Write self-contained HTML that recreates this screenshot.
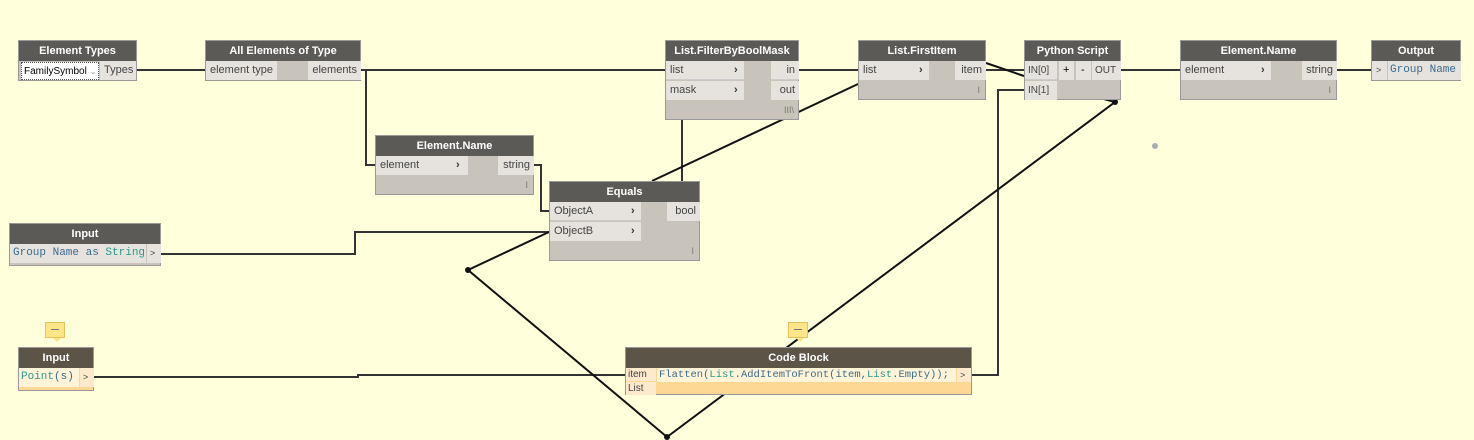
<!DOCTYPE html>
<html><head><meta charset="utf-8"><style>
html,body{margin:0;padding:0;width:1474px;height:440px;overflow:hidden;background:#ffffdc;font-family:"Liberation Sans",sans-serif;}
.n{position:absolute;background:#c8c4bc;border:1px solid #999;box-sizing:border-box;}
.h{position:absolute;left:0;right:0;top:0;height:20px;background:#5c5a57;color:#fff;font-weight:bold;font-size:11px;line-height:20px;text-align:center;}
.c{position:absolute;background:#e6e3de;font-size:11px;color:#444;line-height:19px;padding-left:4px;box-sizing:border-box;height:19px;}
.r{text-align:right;padding-right:4px;padding-left:0;}
.m{font-family:"Liberation Mono",monospace;color:#3a6c8c;}
.t{color:#2a9a8a;}
.ar{position:absolute;font-weight:bold;font-size:11px;color:#333;}
.ft{position:absolute;font-size:9px;color:#777;}
svg{position:absolute;left:0;top:0;}
.cm{position:absolute;width:20px;height:16px;background:#fde58a;border:1px solid #e6c25c;box-sizing:border-box;}
.cm:after{content:"";position:absolute;left:7px;top:15px;border:4px solid transparent;border-top:4px solid #fde58a;}
</style></head><body>

<svg width="1474" height="440" viewBox="0 0 1474 440">
<g fill="none" stroke="#333" stroke-width="2">
 <path d="M137 70 H205"/>
 <path d="M361 70 H665"/>
 <path d="M366 70 V165 H375"/>
 <path d="M534 165 H541 V211 H549"/>
 <path d="M161 254 H355 V232 H549"/>
 <path d="M799 70 H858"/>
 <path d="M682 120 V181"/>
 <path d="M986 70 H1024"/>
 <path d="M1121 70 H1180"/>
 <path d="M1337 70 H1371"/>
 <path d="M94 377 H358 V375 H625"/>
 <path d="M972 375 H998 V90 H1024"/>
</g>
<g fill="none" stroke="#111" stroke-width="2">
 <path d="M549 232 L468 270 L667 437 L1115 102 L1100 98"/>
 <path d="M652 181 L858 84"/>
 <path d="M986 63 L1024 76"/>
</g>
<g fill="#111">
 <circle cx="468" cy="270" r="3"/>
 <circle cx="667" cy="437" r="3"/>
 <circle cx="1115" cy="102" r="3"/>
</g>
<circle cx="1155" cy="146" r="3" fill="#aab"/>
</svg>

<!-- Element Types -->
<div class="n" style="left:18px;top:40px;width:119px;height:41px;">
 <div class="h">Element Types</div>
 <div class="c" style="left:2px;top:21px;width:78px;background:#fff;border:1px dotted #555;font-size:10px;color:#000;line-height:17px;height:18px;padding-left:2px;">FamilySymbol <span style="color:#999;font-size:8px">⌄</span></div>
 <div class="c" style="left:81px;top:20px;width:36px;">Types</div>
</div>

<!-- All Elements of Type -->
<div class="n" style="left:205px;top:40px;width:156px;height:41px;">
 <div class="h">All Elements of Type</div>
 <div class="c" style="left:0;top:20px;width:71px;">element type</div>
 <div class="c r" style="left:102px;top:20px;width:53px;">elements</div>
</div>

<!-- Element.Name mid -->
<div class="n" style="left:375px;top:135px;width:159px;height:60px;">
 <div class="h">Element.Name</div>
 <div class="c" style="left:0;top:20px;width:92px;">element<span class="ar" style="left:80px;top:0">›</span></div>
 <div class="c r" style="left:122px;top:20px;width:36px;">string</div>
 <div class="ft" style="right:5px;top:44px;">I</div>
</div>

<!-- Equals -->
<div class="n" style="left:549px;top:181px;width:151px;height:80px;">
 <div class="h">Equals</div>
 <div class="c" style="left:0;top:20px;width:91px;border-bottom:1px solid #ccc;">ObjectA<span class="ar" style="left:81px;top:0">›</span></div>
 <div class="c" style="left:0;top:40px;width:91px;">ObjectB<span class="ar" style="left:81px;top:0">›</span></div>
 <div class="c r" style="left:117px;top:20px;width:33px;">bool</div>
 <div class="ft" style="right:5px;top:64px;">I</div>
</div>

<!-- Input string -->
<div class="n" style="left:9px;top:223px;width:152px;height:43px;">
 <div class="h">Input</div>
 <div class="c m" style="left:0;top:20px;width:136px;font-size:11px;padding-left:3px;">Group Name as <span class="t">String</span></div>
 <div class="c" style="left:137px;top:20px;width:14px;font-size:9px;padding-left:3px;">&gt;</div>
</div>

<!-- List.FilterByBoolMask -->
<div class="n" style="left:665px;top:40px;width:134px;height:80px;">
 <div class="h">List.FilterByBoolMask</div>
 <div class="c" style="left:0;top:20px;width:78px;border-bottom:1px solid #ccc;">list<span class="ar" style="left:68px;top:0">›</span></div>
 <div class="c" style="left:0;top:40px;width:78px;">mask<span class="ar" style="left:68px;top:0">›</span></div>
 <div class="c r" style="left:105px;top:20px;width:28px;border-bottom:1px solid #ccc;">in</div>
 <div class="c r" style="left:105px;top:40px;width:28px;">out</div>
 <div class="ft" style="right:4px;top:64px;">III\</div>
</div>

<!-- List.FirstItem -->
<div class="n" style="left:858px;top:40px;width:128px;height:60px;">
 <div class="h">List.FirstItem</div>
 <div class="c" style="left:0;top:20px;width:70px;">list<span class="ar" style="left:60px;top:0">›</span></div>
 <div class="c r" style="left:96px;top:20px;width:31px;">item</div>
 <div class="ft" style="right:5px;top:44px;">I</div>
</div>

<!-- Python Script -->
<div class="n" style="left:1024px;top:40px;width:97px;height:60px;">
 <div class="h">Python Script</div>
 <div class="c" style="left:0;top:20px;width:32px;font-size:10px;padding-left:3px;border-bottom:1px solid #ccc;">IN[0]</div>
 <div class="c" style="left:0;top:40px;width:32px;font-size:10px;padding-left:3px;">IN[1]</div>
 <div class="c" style="left:34px;top:20px;width:15px;padding-left:4px;color:#000;">+</div>
 <div class="c" style="left:51px;top:20px;width:15px;padding-left:5px;color:#000;">-</div>
 <div class="c" style="left:67px;top:20px;width:29px;font-size:10px;padding-left:3px;">OUT</div>
</div>

<!-- Element.Name right -->
<div class="n" style="left:1180px;top:40px;width:157px;height:60px;">
 <div class="h">Element.Name</div>
 <div class="c" style="left:0;top:20px;width:90px;">element<span class="ar" style="left:80px;top:0">›</span></div>
 <div class="c r" style="left:121px;top:20px;width:35px;">string</div>
 <div class="ft" style="right:5px;top:44px;">I</div>
</div>

<!-- Output -->
<div class="n" style="left:1371px;top:40px;width:90px;height:41px;">
 <div class="h">Output</div>
 <div class="c" style="left:0;top:20px;width:15px;font-size:9px;padding-left:4px;">&gt;</div>
 <div class="c m" style="left:16px;top:20px;width:73px;padding-left:2px;">Group Name</div>
</div>

<!-- Input Point(s) -->
<div class="n" style="left:18px;top:347px;width:76px;height:44px;background:#fcd894;">
 <div class="h" style="background:#5c5447;">Input</div>
 <div class="c m" style="left:0;top:20px;width:60px;background:#fff3d8;padding-left:2px;"><span class="t">Point</span>(s)</div>
 <div class="c" style="left:61px;top:20px;width:14px;background:#fdeacc;font-size:9px;padding-left:3px;">&gt;</div>
</div>

<!-- Code Block -->
<div class="n" style="left:625px;top:347px;width:347px;height:48px;background:#fcd894;">
 <div class="h" style="background:#5c5447;">Code Block</div>
 <div class="c" style="left:0;top:20px;width:30px;height:13px;line-height:13px;background:#fdeacc;font-size:10px;padding-left:2px;">item</div>
 <div class="c" style="left:0;top:34px;width:30px;height:13px;line-height:13px;background:#fdeacc;font-size:10px;padding-left:2px;">List</div>
 <div class="c m" style="left:31px;top:20px;width:299px;height:14px;line-height:14px;background:#fff3d8;font-size:10.5px;padding-left:2px;white-space:nowrap;overflow:hidden;">Flatten(<span class="t">List</span>.AddItemToFront(item,<span class="t">List</span>.Empty));</div>
 <div class="c" style="left:331px;top:20px;width:14px;height:14px;line-height:14px;background:#fdeacc;font-size:9px;padding-left:3px;">&gt;</div>
</div>

<!-- comment icons -->
<div class="cm" style="left:45px;top:322px;"><div style="margin:6px 5px;height:1px;background:#777"></div></div>
<div class="cm" style="left:788px;top:322px;"><div style="margin:6px 5px;height:1px;background:#777"></div></div>

</body></html>
